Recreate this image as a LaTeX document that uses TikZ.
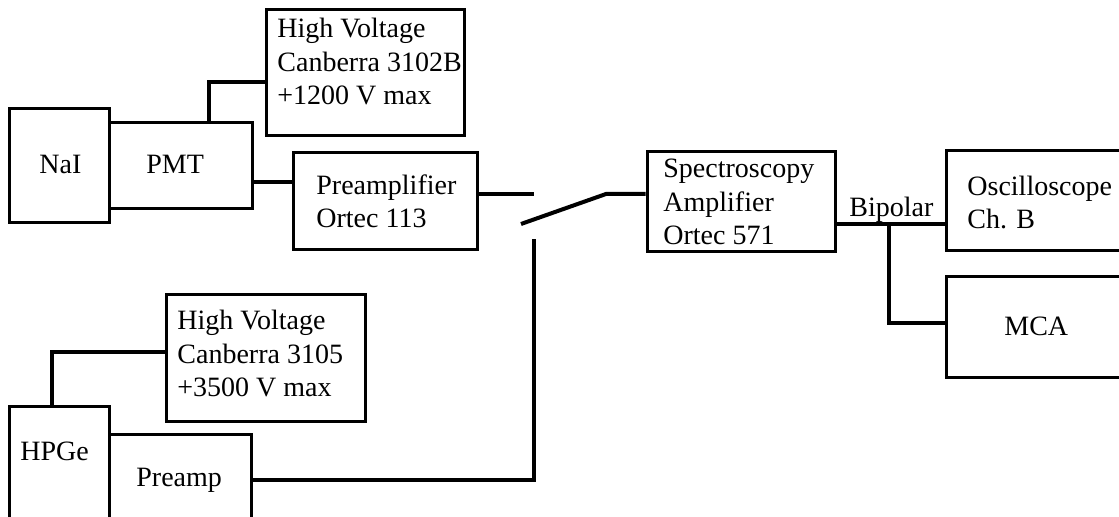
\documentclass[tikz,border=0pt]{standalone}
\usepackage{fontspec}
\setmainfont{Liberation Serif}
\usetikzlibrary{fit}
\begin{document}
\begin{tikzpicture}[x=0.5pt,y=-0.5pt,
  box/.style={draw, line width=1.5pt, inner sep=0pt, rectangle},
  wire/.style={draw, line width=2pt},
  txt/.style={inner sep=0pt, align=left, font=\fontsize{14pt}{16.75pt}\selectfont}]
\useasboundingbox (0,0) rectangle (1119,517);
\clip (0,0) rectangle (1119,517);
% boxes
\node[box, fit={(9,109) (109,223)}] (nai) {};
\node[box, fit={(109,123) (252,209)}] (pmt) {};
\node[box, fit={(266,10) (464,136)}] (hv1) {};
\node[box, fit={(293,153) (477,250)}] (preA) {};
\node[box, fit={(9,407) (109,560)}] (hpge) {};
\node[box, fit={(109,435) (251,560)}] (preB) {};
\node[box, fit={(166,295) (365,422)}] (hv2) {};
\node[box, fit={(647,152) (835,252)}] (spec) {};
\node[box, fit={(946,151) (1160,251)}] (osc) {};
\node[box, fit={(946,277) (1160,378)}] (mca) {};
% texts (base anchor = baseline of the last line)
\node[txt, anchor=base west] (naiT) at (39,174) {NaI};
\node[txt, anchor=base west] (pmtT) at (146,174) {PMT};
\node[txt, anchor=base west] (hv1T) at (277,105) {High Voltage\\Canberra 3102B\\+1200 V max};
\node[txt, anchor=base west] (preAT) at (316,228) {Preamplifier\\Ortec 113};
\node[txt, anchor=base west] (hv2T) at (177,397) {High Voltage\\Canberra 3105\\+3500 V max};
\node[txt, anchor=base west] (hpgeT) at (20,461) {HPGe};
\node[txt, anchor=base west] (preBT) at (136,487) {Preamp};
\node[txt, anchor=base west] (specT) at (663,245) {Spectroscopy\\Amplifier\\Ortec 571};
\node[txt, anchor=base west] (bip) at (849,217) {Bipolar};
\node[txt, anchor=base west] (oscT) at (967,229) {Oscilloscope\\Ch. B};
\node[txt, anchor=base west] (mcaT) at (1004,336) {MCA};
% junction coordinates
\coordinate (j1) at (209,82);
\coordinate (j2) at (0,182);
\coordinate (swa) at (534,194);
\coordinate (swp) at (521,224);
\coordinate (swb) at (606,194);
\coordinate (swc) at (534,239);
\coordinate (j5) at (0,480);
\coordinate (j6) at (52,352);
\coordinate (j7) at (0,224);
\coordinate (j8) at (889,224);
\coordinate (j9) at (0,323);
% connectors
\draw[wire] (pmt.north -| j1) |- (hv1.west |- j1);
\draw[wire] (pmt.east |- j2) -- (preA.west |- j2);
\draw[wire] (preA.east |- swa) -- (swa);
\draw[wire] (swp) -- (swb) -- (spec.west |- swb);
\draw[wire] (preB.east |- j5) -| (swc);
\draw[wire] (hpge.north -| j6) |- (hv2.west |- j6);
\draw[wire] (spec.east |- j7) -- (osc.west |- j7);
\draw[wire] (j8) |- (mca.west |- j9);
\end{tikzpicture}
\end{document}
